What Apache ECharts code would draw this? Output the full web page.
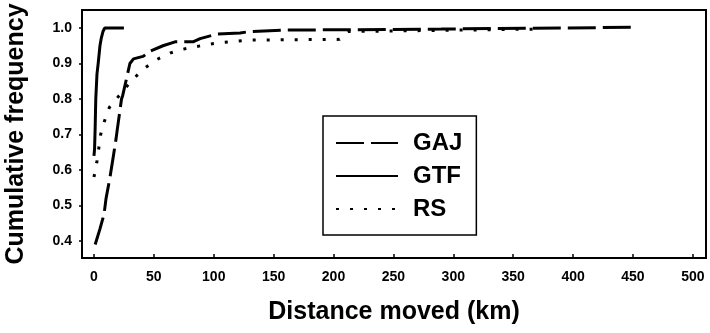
<!DOCTYPE html>
<html>
<head>
<meta charset="utf-8">
<script src="https://cdn.jsdelivr.net/npm/echarts@6/dist/echarts.min.js"></script>
<style>html,body{margin:0;padding:0;background:#fff}#c{width:710px;height:333px}</style>
</head>
<body>
<div id="c"></div>
<script>
// Data
const xTicks = [0, 50, 100, 150, 200, 250, 300, 350, 400, 450, 500];
const yTicks = [0.4, 0.5, 0.6, 0.7, 0.8, 0.9, 1.0];

const gajX = [1, 5, 8.4, 10, 13.4, 16, 18.4, 19.5, 23, 24, 25.5, 30, 33, 41, 47, 57.6, 67.7, 82.7, 88.6, 102.8, 122, 130, 160, 290, 450];
const gajY = [0.39, 0.434, 0.475, 0.518, 0.58, 0.635, 0.687, 0.715, 0.80, 0.81, 0.815, 0.90, 0.913, 0.92, 0.935, 0.95, 0.961, 0.961, 0.97, 0.983, 0.986, 0.99, 0.994, 0.997, 1.002];

const gtfX = [0, 0.5, 1, 1.5, 2.5, 3.5, 5, 6, 7.5, 9, 25];
const gtfY = [0.64, 0.66, 0.72, 0.80, 0.87, 0.90, 0.95, 0.97, 0.99, 1.0, 1.0];

const rsX = [0, 2.3, 5.6, 8.6, 12.8, 31.5, 41.2, 51.8, 64, 74, 86, 97.5, 109, 120, 130, 205, 212, 372];
const rsY = [0.58, 0.62, 0.70, 0.736, 0.776, 0.852, 0.884, 0.91, 0.93, 0.94, 0.948, 0.955, 0.96, 0.963, 0.966, 0.968, 0.99, 0.997];

const zip = (xs, ys) => xs.map((x, i) => [x, ys[i]]);
const FONT = 'Liberation Sans, Arial, sans-serif';

const chart = echarts.init(document.getElementById('c'), null, {renderer: 'canvas'});
chart.setOption({
  animation: false,
  backgroundColor: '#fff',
  grid: {left: 82, right: 4, top: 10, bottom: 75, containLabel: false, outerBoundsMode: 'none', show: true, borderColor: '#000', borderWidth: 2, backgroundColor: 'transparent'},
  xAxis: {
    type: 'value', min: -10, max: 511,
    name: 'Distance moved (km)', nameLocation: 'middle', nameGap: 42,
    nameTextStyle: {fontFamily: FONT, fontWeight: 'bold', fontSize: 25, color: '#000'},
    axisLine: {show: true, onZero: false, lineStyle: {color: '#000', width: 2}},
    axisTick: {show: true, inside: true, length: 4, customValues: xTicks, lineStyle: {color: '#000', width: 1.5}},
    axisLabel: {customValues: xTicks, margin: 12, fontFamily: FONT, fontWeight: 'bold', fontSize: 14, color: '#000'},
    splitLine: {show: false}
  },
  yAxis: {
    type: 'value', min: 0.352, max: 1.0507,
    name: 'Cumulative frequency', nameLocation: 'middle', nameGap: 53,
    nameTextStyle: {fontFamily: FONT, fontWeight: 'bold', fontSize: 25, color: '#000'},
    axisLine: {show: true, onZero: false, lineStyle: {color: '#000', width: 2}},
    axisTick: {show: true, inside: false, length: 3, customValues: yTicks, lineStyle: {color: '#000', width: 1.5}},
    axisLabel: {customValues: yTicks, margin: 10, fontFamily: FONT, fontWeight: 'bold', fontSize: 14, color: '#000', formatter: v => v.toFixed(1)},
    splitLine: {show: false}
  },
  legend: {
    orient: 'vertical', left: 323, top: 116,
    backgroundColor: '#fff', borderColor: '#000', borderWidth: 1.5,
    padding: [15, 14, 14, 12],
    itemWidth: 62, itemHeight: 14, itemGap: 9,
    itemStyle: {opacity: 0},
    textStyle: {fontFamily: FONT, fontWeight: 'bold', fontSize: 24, lineHeight: 24, color: '#000', padding: [0, 0, 0, 10]},
    data: ['GAJ', 'GTF', 'RS']
  },
  series: [
    {name: 'GAJ', type: 'line', data: zip(gajX, gajY), symbol: 'none', itemStyle: {color: '#000'}, lineStyle: {color: '#000', width: 3, type: [28, 7]}},
    {name: 'GTF', type: 'line', data: zip(gtfX, gtfY), symbol: 'none', itemStyle: {color: '#000'}, lineStyle: {color: '#000', width: 3, type: 'solid'}},
    {name: 'RS', type: 'line', data: zip(rsX, rsY), symbol: 'none', itemStyle: {color: '#000'}, lineStyle: {color: '#000', width: 3, type: [3, 11]}}
  ]
});
</script>
</body>
</html>
